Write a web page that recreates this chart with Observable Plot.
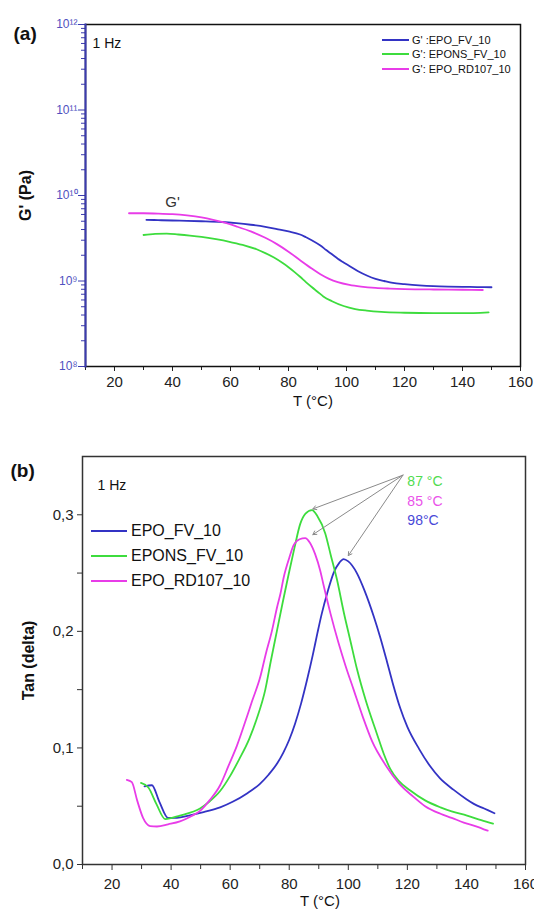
<!DOCTYPE html>
<html>
<head>
<meta charset="utf-8">
<script src="https://cdn.jsdelivr.net/npm/d3@7"></script>
<script src="https://cdn.jsdelivr.net/npm/@observablehq/plot@0.6"></script>
<style>
  html, body { margin: 0; padding: 0; background: #fff; }
  #wrap { position: relative; width: 534px; height: 914px; background: #fff; overflow: hidden;
          font-family: 'Liberation Sans', Arial, sans-serif; }
  .pane { position: absolute; left: 0; }
  .leg { position: absolute; display: flex; align-items: center; white-space: nowrap; color: #111; }
  .leg span.sw { display: inline-block; height: 2px; }
</style>
</head>
<body>
<div id="wrap">
  <div id="pa" class="pane" style="top:0"></div>
  <div id="pb" class="pane" style="top:420px"></div>
</div>
<script>
// ---------- series names & colours ----------
const seriesNames = ["EPO_FV_10", "EPONS_FV_10", "EPO_RD107_10"];
const legendA = ["G' :EPO_FV_10", "G': EPONS_FV_10", "G': EPO_RD107_10"];
const seriesColors = ["#3333c4", "#3ddc3d", "#e83ce8"];

// ---------- panel (a): storage modulus G' (Pa) vs T (°C) ----------
const gBlueT = [31, 35, 40, 45, 50, 57, 62, 67, 72, 76, 80, 84, 86, 88, 91, 93, 95, 97, 99, 101, 104, 107, 110, 113, 116, 120, 125, 130, 135, 140, 145, 150];
const gBlueV = [5.2e9, 5.15e9, 5.1e9, 5.05e9, 5.0e9, 4.9e9, 4.75e9, 4.55e9, 4.3e9, 4.05e9, 3.8e9, 3.5e9, 3.25e9, 3.0e9, 2.6e9, 2.3e9, 2.05e9, 1.82e9, 1.65e9, 1.5e9, 1.3e9, 1.16e9, 1.06e9, 1.0e9, 0.95e9, 0.92e9, 0.89e9, 0.87e9, 0.86e9, 0.855e9, 0.85e9, 0.845e9];
const gGreenT = [30, 34, 38, 42, 46, 50, 55, 60, 65, 69, 72, 75, 78, 80, 82, 84, 86, 88, 90, 92, 95, 99, 103, 107, 112, 120, 130, 140, 149];
const gGreenV = [3.45e9, 3.55e9, 3.58e9, 3.5e9, 3.4e9, 3.28e9, 3.08e9, 2.85e9, 2.6e9, 2.35e9, 2.12e9, 1.88e9, 1.62e9, 1.45e9, 1.28e9, 1.12e9, 0.97e9, 0.85e9, 0.75e9, 0.66e9, 0.58e9, 0.51e9, 0.47e9, 0.45e9, 0.435e9, 0.425e9, 0.42e9, 0.42e9, 0.43e9];
const gPinkT = [25, 30, 35, 40, 45, 50, 54, 57, 62, 67, 72, 76, 80, 84, 88, 91, 94, 97, 101, 105, 110, 115, 120, 130, 140, 147];
const gPinkV = [6.2e9, 6.2e9, 6.15e9, 6.05e9, 5.85e9, 5.55e9, 5.2e9, 4.9e9, 4.35e9, 3.8e9, 3.2e9, 2.7e9, 2.2e9, 1.75e9, 1.4e9, 1.2e9, 1.06e9, 0.97e9, 0.9e9, 0.86e9, 0.83e9, 0.815e9, 0.805e9, 0.795e9, 0.79e9, 0.785e9];
const gAnnot = [{T: 40, G: 8.3e9, label: "G'"}];

// ---------- panel (b): tan(delta) vs T (°C) ----------
const tBlueT = [31, 33.5, 36, 39, 42, 46, 51, 56.6, 61, 65.7, 70, 73, 76, 78, 80, 82, 84, 86, 88, 89.5, 91, 93, 95, 97, 98.4, 100, 102.9, 105.5, 108.6, 110.8, 113.1, 115, 117.6, 120, 124, 127.8, 131, 135.7, 140, 142.5, 146, 149.5];
const tBlueV = [0.067, 0.068, 0.054, 0.040, 0.040, 0.042, 0.045, 0.049, 0.054, 0.061, 0.069, 0.077, 0.087, 0.096, 0.107, 0.121, 0.138, 0.158, 0.180, 0.198, 0.215, 0.234, 0.250, 0.259, 0.262, 0.260, 0.250, 0.235, 0.213, 0.195, 0.174, 0.156, 0.134, 0.118, 0.099, 0.084, 0.074, 0.064, 0.056, 0.052, 0.048, 0.044];
const tGreenT = [29.8, 32.3, 35, 38, 43, 49.8, 53, 56.6, 60, 63, 66.5, 69, 71.9, 73.8, 75.8, 77.8, 79.8, 81.8, 83.7, 85.5, 87.7, 89.5, 92.2, 94, 96.2, 98.5, 100.7, 103, 106, 109.7, 112, 114.2, 117, 121, 126, 131.2, 135, 140.2, 145, 149];
const tGreenV = [0.070, 0.066, 0.052, 0.039, 0.042, 0.048, 0.054, 0.063, 0.076, 0.090, 0.108, 0.125, 0.150, 0.175, 0.200, 0.225, 0.249, 0.272, 0.292, 0.301, 0.304, 0.299, 0.284, 0.266, 0.244, 0.216, 0.192, 0.167, 0.140, 0.112, 0.095, 0.082, 0.072, 0.0635, 0.055, 0.049, 0.0455, 0.042, 0.038, 0.035];
const tPinkT = [25, 26.7, 28.5, 30.5, 32.9, 35.2, 39, 43, 46.5, 49.8, 53, 56.6, 59.5, 62.3, 65.7, 67.4, 70.2, 72, 74.1, 76, 77, 78.1, 80, 81.5, 83.5, 85.4, 87, 88.8, 90.5, 91.6, 94, 96.7, 99, 101.8, 105, 108, 113.1, 117, 122.1, 126, 131.2, 135, 139.1, 143, 147.2];
const tPinkV = [0.0726, 0.0706, 0.055, 0.040, 0.033, 0.0326, 0.0345, 0.037, 0.041, 0.046, 0.055, 0.068, 0.085, 0.102, 0.127, 0.140, 0.161, 0.180, 0.200, 0.222, 0.232, 0.246, 0.263, 0.274, 0.279, 0.280, 0.276, 0.266, 0.252, 0.240, 0.215, 0.190, 0.171, 0.150, 0.126, 0.106, 0.0835, 0.070, 0.058, 0.050, 0.0435, 0.040, 0.036, 0.033, 0.029];

// Tg annotation (labels, arrow start, arrow tip)
const tgLabels = ["87 °C", "85 °C", "98°C"];
const tgLabelColors = ["#4fdc4f", "#ea52ea", "#4848d8"];
const tgLabelT = [120, 120, 120];
const tgLabelV = [0.3285, 0.3113, 0.295];
const tgFromT = [118.5, 118.5, 118.5];
const tgFromV = [0.334, 0.334, 0.334];
const tgToT = [88, 88, 100];
const tgToV = [0.305, 0.283, 0.265];

// ---------- ticks ----------
const xMajor = [20, 40, 60, 80, 100, 120, 140, 160];
const xMinor = [10, 30, 50, 70, 90, 110, 130, 150];
const gMajor = [1e8, 1e9, 1e10, 1e11, 1e12];
const gMinor = [];
for (const dec of [1e8, 1e9, 1e10, 1e11]) for (const m of [2, 3, 4, 5, 6, 7, 8, 9]) gMinor.push(m * dec);
const tMajor = [0, 0.1, 0.2, 0.3];
const tMinor = [0.05, 0.15, 0.25];

// ---------- helpers ----------
const rows = (T, V) => T.map((t, i) => ({T: t, V: V[i]}));
const supMap = {"0": "⁰", "1": "¹", "2": "²", "3": "³", "4": "⁴", "5": "⁵", "6": "⁶", "7": "⁷", "8": "⁸", "9": "⁹"};
const powFmt = d => "10" + String(Math.round(Math.log10(d))).split("").map(c => supMap[c]).join("");
const commaFmt = d => d.toFixed(1).replace(".", ",");
const noLabel = () => "";
const FONT = "'Liberation Sans', Arial, sans-serif";
const axisBlue = "#3b3bb0";

const gSeries = [rows(gBlueT, gBlueV), rows(gGreenT, gGreenV), rows(gPinkT, gPinkV)];
const tSeries = [rows(tBlueT, tBlueV), rows(tGreenT, tGreenV), rows(tPinkT, tPinkV)];

// ---------- panel (a) ----------
const chartA = Plot.plot({
  width: 534, height: 420,
  marginTop: 24, marginRight: 14, marginBottom: 54, marginLeft: 85,
  style: {fontFamily: FONT, fontSize: "14px", color: "#111", background: "transparent", overflow: "visible"},
  x: {domain: [10, 160]},
  y: {type: "log", domain: [1e8, 1e12]},
  marks: [
    Plot.axisY({ticks: gMinor, tickSize: 4, tickFormat: noLabel, stroke: axisBlue, label: null}),
    Plot.axisY({ticks: gMajor, tickSize: 7, tickPadding: 1, tickFormat: powFmt, stroke: axisBlue, fill: "#5050c0", fontSize: 12, label: null}),
    Plot.axisX({ticks: xMinor, tickSize: 4, tickFormat: noLabel, label: null, stroke: "#222"}),
    Plot.axisX({ticks: xMajor, tickSize: 5, tickPadding: 5, label: null, stroke: "#222", fill: "#222", fontSize: 15}),
    Plot.frame({stroke: "#111", strokeWidth: 1.5}),
    Plot.frame({anchor: "left", stroke: axisBlue, strokeWidth: 2}),
    ...gSeries.map((s, i) => Plot.line(s, {x: "T", y: "V", stroke: seriesColors[i], strokeWidth: 1.8, curve: "monotone-x"})),
    Plot.text(gAnnot, {x: "T", y: "G", text: "label", fontSize: 15, fill: "#333"}),
    Plot.text(["1 Hz"], {frameAnchor: "top-left", dx: 7, dy: 19, textAnchor: "start", lineAnchor: "middle", fontSize: 14, fill: "#111"}),
    Plot.text(["(a)"], {frameAnchor: "top-left", dx: -72, dy: 9, textAnchor: "start", lineAnchor: "middle", fontSize: 19, fontWeight: "bold", fill: "#111"}),
    Plot.text(["G' (Pa)"], {frameAnchor: "left", dx: -60, rotate: -90, textAnchor: "middle", lineAnchor: "middle", fontSize: 16, fontWeight: "bold", fill: "#111"}),
    Plot.text(["T (°C)"], {frameAnchor: "bottom", dx: 10, dy: 35, textAnchor: "middle", lineAnchor: "middle", fontSize: 15, fill: "#111"})
  ]
});
document.getElementById("pa").appendChild(chartA);

// ---------- panel (b) ----------
const tgRows = tgLabels.map((l, i) => ({label: l, color: tgLabelColors[i], lx: tgLabelT[i], ly: tgLabelV[i], x1: tgFromT[i], y1: tgFromV[i], x2: tgToT[i], y2: tgToV[i]}));
const chartB = Plot.plot({
  width: 534, height: 494,
  marginTop: 36, marginRight: 9, marginBottom: 50, marginLeft: 82,
  style: {fontFamily: FONT, fontSize: "14px", color: "#111", background: "transparent", overflow: "visible"},
  x: {domain: [10, 160]},
  y: {domain: [0, 0.35]},
  color: {type: "identity"},
  marks: [
    Plot.axisY({ticks: tMinor, tickSize: 5, tickFormat: noLabel, label: null, stroke: "#333"}),
    Plot.axisY({ticks: tMajor, tickSize: 5, tickPadding: 4, tickFormat: commaFmt, label: null, stroke: "#333", fill: "#222", fontSize: 15}),
    Plot.axisX({ticks: xMinor, tickSize: 5, tickFormat: noLabel, label: null, stroke: "#333"}),
    Plot.axisX({ticks: xMajor, tickSize: 6, tickPadding: 8, label: null, stroke: "#333", fill: "#222", fontSize: 15}),
    Plot.frame({stroke: "#333", strokeWidth: 1.5}),
    ...tSeries.map((s, i) => Plot.line(s, {x: "T", y: "V", stroke: seriesColors[i], strokeWidth: 1.8, curve: "monotone-x"})),
    Plot.arrow(tgRows, {x1: "x1", y1: "y1", x2: "x2", y2: "y2", stroke: "#8a8a8a", strokeWidth: 1, headLength: 6, bend: false}),
    Plot.text(tgRows, {x: "lx", y: "ly", text: "label", fill: "color", textAnchor: "start", lineAnchor: "middle", fontSize: 14}),
    Plot.text(["1 Hz"], {frameAnchor: "top-left", dx: 15, dy: 29, textAnchor: "start", lineAnchor: "middle", fontSize: 14, fill: "#111"}),
    Plot.text(["(b)"], {frameAnchor: "top-left", dx: -72, dy: 14, textAnchor: "start", lineAnchor: "middle", fontSize: 19, fontWeight: "bold", fill: "#111"}),
    Plot.text(["Tan (delta)"], {frameAnchor: "left", dx: -54, rotate: -90, textAnchor: "middle", lineAnchor: "middle", fontSize: 16, fontWeight: "bold", fill: "#111"}),
    Plot.text(["T (°C)"], {frameAnchor: "bottom", dx: 16, dy: 37, textAnchor: "middle", lineAnchor: "middle", fontSize: 15, fill: "#111"})
  ]
});
document.getElementById("pb").appendChild(chartB);

// ---------- legends (HTML overlays inside plot frames) ----------
const wrap = document.getElementById("wrap");
function addLegend(labels, left, tops, lineW, gap, fontSize) {
  labels.forEach((lab, i) => {
    const row = document.createElement("div");
    row.className = "leg";
    row.style.left = left + "px";
    row.style.top = (tops[i] - fontSize * 0.6) + "px";
    row.style.height = (fontSize * 1.2) + "px";
    row.style.fontSize = fontSize + "px";
    const sw = document.createElement("span");
    sw.className = "sw";
    sw.style.width = lineW + "px";
    sw.style.background = seriesColors[i];
    sw.style.marginRight = gap + "px";
    const tx = document.createElement("span");
    tx.textContent = lab;
    row.appendChild(sw); row.appendChild(tx);
    wrap.appendChild(row);
  });
}
addLegend(legendA, 382, [40, 54, 69], 27, 3, 11);
addLegend(seriesNames, 91, [531, 556, 581], 36, 4, 16);
</script>
</body>
</html>
